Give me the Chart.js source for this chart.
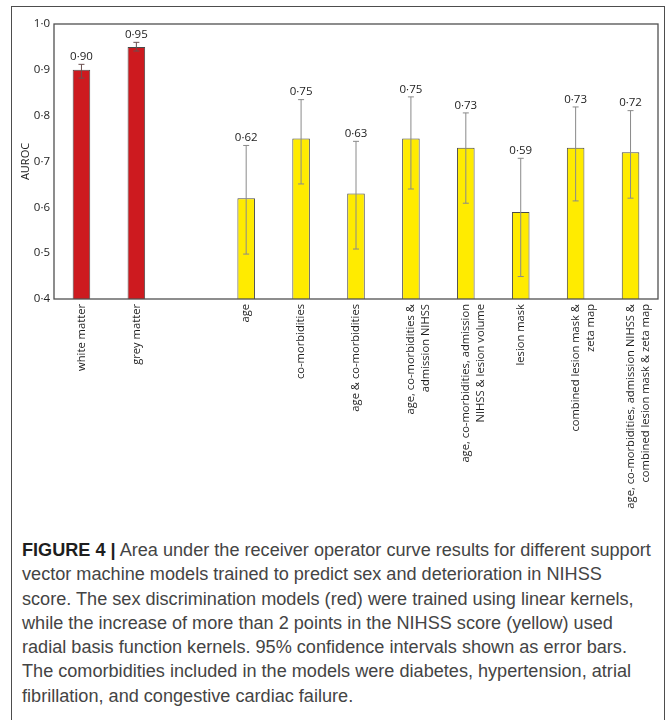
<!DOCTYPE html>
<html>
<head>
<meta charset="utf-8">
<script src="https://cdn.jsdelivr.net/npm/chart.js@4.4.1/dist/chart.umd.min.js"></script>
<style>
  html, body { margin: 0; padding: 0; background: #fff; }
  body { width: 668px; height: 720px; position: relative; overflow: hidden; }
  #frame { position: absolute; left: 11px; top: 6px; width: 654px; height: 740px;
           border: 1.5px solid #4d4d4d; box-sizing: border-box; }
  #wrap { position: absolute; left: 0; top: 0; width: 668px; height: 520px; }
  #caption { position: absolute; left: 22px; top: 538px; color: #444;
             font-family: 'Liberation Sans', Arial, sans-serif; font-size: 17px;
             line-height: 24.3px; white-space: nowrap; }
  #caption b { color: #1e1e1e; }
</style>
</head>
<body>
<div id="frame"></div>
<div id="wrap"><canvas id="chart" width="668" height="520"></canvas></div>
<div id="caption"><span id="firstLine"><b>FIGURE 4 |</b> Area under the receiver operator curve results for different support</span><br>vector machine models trained to predict sex and deterioration in NIHSS<br>score. The sex discrimination models (red) were trained using linear kernels,<br>while the increase of more than 2 points in the NIHSS score (yellow) used<br>radial basis function kernels. 95% confidence intervals shown as error bars.<br>The comorbidities included in the models were diabetes, hypertension, atrial<br>fibrillation, and congestive cardiac failure.</div>

<script>
// Model names (empty slot separates the sex models from the NIHSS models)
const categories = [
  ['white matter'],
  ['grey matter'],
  '',
  ['age'],
  ['co-morbidities'],
  ['age & co-morbidities'],
  ['age, co-morbidities &', 'admission NIHSS'],
  ['age, co-morbidities, admission', 'NIHSS & lesion volume'],
  ['lesion mask'],
  ['combined lesion mask &', 'zeta map'],
  ['age, co-morbidities, admission NIHSS &', 'combined lesion mask & zeta map']
];
// Which prediction task each model belongs to
const modelTask = ['sex', 'sex', null, 'nihss', 'nihss', 'nihss', 'nihss', 'nihss', 'nihss', 'nihss', 'nihss'];
// AUROC and 95% confidence interval bounds
const auroc   = [0.90, 0.95, null, 0.62, 0.75, 0.63, 0.75, 0.73, 0.59, 0.73, 0.72];
const ciLower = [0.882, 0.941, null, 0.498, 0.651, 0.509, 0.640, 0.609, 0.449, 0.614, 0.620];
const ciUpper = [0.912, 0.960, null, 0.735, 0.835, 0.744, 0.841, 0.806, 0.707, 0.819, 0.811];
// Y axis ticks
const yTicks = [0.4, 0.5, 0.6, 0.7, 0.8, 0.9, 1.0];

const taskColour = { sex: '#cd1a1f', nihss: '#ffeb00' };
const fmt = v => v.toFixed(1).replace('.', '·');
const fmt2 = v => v.toFixed(2).replace('.', '·');
const labelFont = "'Open Sans', 'DejaVu Sans', sans-serif";

// Error bars with caps plus the value printed above each bar
const errorBars = {
  id: 'errorBars',
  afterDatasetsDraw(chart) {
    const { ctx, scales: { y } } = chart;
    const meta = chart.getDatasetMeta(0);
    ctx.save();
    meta.data.forEach((bar, i) => {
      if (auroc[i] == null) return;
      const x = bar.x;
      const yTop = y.getPixelForValue(ciUpper[i]);
      const yBot = y.getPixelForValue(ciLower[i]);
      ctx.strokeStyle = modelTask[i] === 'sex' ? '#6a5050' : '#8a8a8a';
      ctx.lineWidth = 1;
      ctx.beginPath();
      ctx.moveTo(x, yTop); ctx.lineTo(x, yBot);
      ctx.moveTo(x - 3, yTop); ctx.lineTo(x + 3, yTop);
      ctx.moveTo(x - 3, yBot); ctx.lineTo(x + 3, yBot);
      ctx.stroke();
      ctx.fillStyle = '#222';
      ctx.font = '11.5px ' + labelFont;
      ctx.textAlign = 'center';
      ctx.textBaseline = 'middle';
      ctx.fillText(fmt2(auroc[i]), x, yTop - 7.5);
    });
    ctx.restore();
  }
};

// Box round the plotting area
const plotBox = {
  id: 'plotBox',
  afterDatasetsDraw(chart) {
    const { ctx, chartArea: a } = chart;
    ctx.save();
    ctx.strokeStyle = '#505050';
    ctx.lineWidth = 1.3;
    ctx.strokeRect(a.left, a.top, a.right - a.left, a.bottom - a.top);
    ctx.restore();
  }
};

new Chart(document.getElementById('chart'), {
  type: 'bar',
  data: {
    labels: categories,
    datasets: [{
      data: auroc,
      backgroundColor: modelTask.map(t => t ? taskColour[t] : 'transparent'),
      borderColor: '#4a4a4a',
      borderWidth: 1,
      barPercentage: 0.32,
      categoryPercentage: 1.0
    }]
  },
  options: {
    responsive: false,
    animation: false,
    layout: { padding: { left: 0, right: 10, top: 24, bottom: 0 } },
    plugins: { legend: { display: false }, tooltip: { enabled: false } },
    scales: {
      x: {
        grid: { display: false, drawTicks: false },
        border: { display: false },
        ticks: {
          autoSkip: false, minRotation: 90, maxRotation: 90, padding: 5,
          color: '#1e1e1e',
          font: { family: labelFont, size: 11.2, lineHeight: 1.35 }
        },
        afterFit(scale) { scale.height = 221; }
      },
      y: {
        min: yTicks[0],
        max: yTicks[yTicks.length - 1],
        grid: { display: false, drawTicks: false },
        border: { display: false },
        afterBuildTicks(scale) { scale.ticks = yTicks.map(v => ({ value: v })); },
        ticks: {
          padding: 4, color: '#222',
          font: { family: labelFont, size: 11.5 },
          callback: v => fmt(v)
        },
        title: {
          display: true, text: 'AUROC', color: '#222',
          font: { family: labelFont, size: 11 },
          padding: { top: 19, bottom: 0 }
        },
        afterFit(scale) { scale.width = 54; }
      }
    }
  },
  plugins: [errorBars, plotBox]
});

// Size the caption so its first line spans the figure width
const first = document.getElementById('firstLine');
const cap = document.getElementById('caption');
const w = first.getBoundingClientRect().width;
cap.style.fontSize = (17 * 629 / w).toFixed(2) + 'px';
</script>
</body>
</html>
